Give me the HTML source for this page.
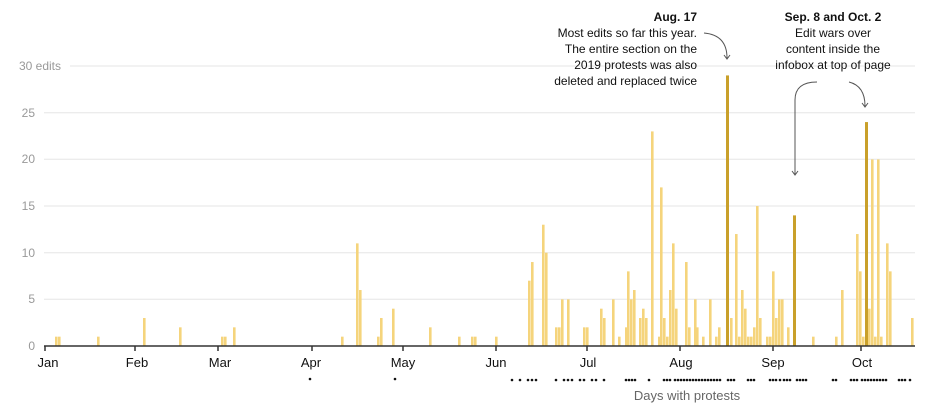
<!DOCTYPE html>
<html><head><meta charset="utf-8"><style>
body{margin:0;background:#fff;}
svg{display:block;font-family:"Liberation Sans",sans-serif;}
</style></head><body>
<svg id="s" width="937" height="416" xmlns="http://www.w3.org/2000/svg">
<g stroke="#e6e6e6" stroke-width="1">
<line x1="44" x2="915" y1="299.3" y2="299.3"/><line x1="44" x2="915" y1="252.7" y2="252.7"/>
<line x1="44" x2="915" y1="206" y2="206"/><line x1="44" x2="915" y1="159.3" y2="159.3"/>
<line x1="44" x2="915" y1="112.7" y2="112.7"/><line x1="70" x2="915" y1="66" y2="66"/>
</g>
<g fill="#999" font-size="12" text-anchor="end">
<text x="35" y="350">0</text><text x="35" y="303">5</text><text x="35" y="257">10</text>
<text x="35" y="210">15</text><text x="35" y="163">20</text><text x="35" y="117">25</text>
<text x="61" y="70">30 edits</text>
</g>
<g id="bars"></g>
<line x1="44" x2="915" y1="346" y2="346" stroke="#333" stroke-width="1.5"/>
<g stroke="#333" stroke-width="1.5">
<line x1="45" x2="45" y1="346" y2="351"/><line x1="135" x2="135" y1="346" y2="351"/>
<line x1="218" x2="218" y1="346" y2="351"/><line x1="312" x2="312" y1="346" y2="351"/>
<line x1="403" x2="403" y1="346" y2="351"/><line x1="496" x2="496" y1="346" y2="351"/>
<line x1="587" x2="587" y1="346" y2="351"/><line x1="680" x2="680" y1="346" y2="351"/>
<line x1="773" x2="773" y1="346" y2="351"/><line x1="861" x2="861" y1="346" y2="351"/>
</g>
<g fill="#111" font-size="13" text-anchor="middle">
<text x="48" y="367">Jan</text><text x="137" y="367">Feb</text><text x="220" y="367">Mar</text>
<text x="311" y="367">Apr</text><text x="403" y="367">May</text><text x="496" y="367">Jun</text>
<text x="588" y="367">Jul</text><text x="681" y="367">Aug</text><text x="773" y="367">Sep</text>
<text x="862" y="367">Oct</text>
</g>
<g id="dots" fill="#111"></g>
<text x="687" y="400" fill="#666" font-size="13" text-anchor="middle">Days with protests</text>
<g font-size="12" fill="#111" text-anchor="end">
<text x="697" y="21" font-weight="bold">Aug. 17</text>
<text x="697" y="37">Most edits so far this year.</text>
<text x="697" y="53">The entire section on the</text>
<text x="697" y="69">2019 protests was also</text>
<text x="697" y="85">deleted and replaced twice</text>
</g>
<g font-size="12" fill="#111" text-anchor="middle">
<text x="833" y="21" font-weight="bold">Sep. 8 and Oct. 2</text>
<text x="833" y="37">Edit wars over</text>
<text x="833" y="53">content inside the</text>
<text x="833" y="69">infobox at top of page</text>
</g>
<g fill="none" stroke="#555" stroke-width="1">
<path d="M704 33 Q727 35 727 58"/><path d="M724 55 L727 59 L730 55"/>
<path d="M817 82 Q795 82 795 100 L795 174"/><path d="M792 171 L795 175 L798 171"/>
<path d="M849 82 Q865 86 865 106"/><path d="M862 103 L865 107 L868 103"/>
</g>
</svg>
<script>
var L="#f5d47c",D="#c9a02a";
var b=[[56,1],[59,1],[98,1],[144,3],[180,2],[222,1],[225,1],[234,2],[342,1],[357,11],[360,6],[378,1],[381,3],[393,4],[430,2],[459,1],[472,1],[475,1],[496,1],[529,7],[532,9],[543,13],[546,10],[556,2],[559,2],[562,5],[568,5],[584,2],[587,2],[601,4],[604,3],[613,5],[619,1],[626,2],[628,8],[631,5],[634,6],[640,3],[643,4],[646,3],[652,23],[659,1],[661,17],[664,3],[667,1],[670,6],[673,11],[676,4],[686,9],[689,2],[695,5],[697,2],[703,1],[710,5],[716,1],[719,2],[727,29,1],[731,3],[736,12],[739,1],[742,6],[745,4],[748,1],[751,1],[754,2],[757,15],[760,3],[767,1],[770,1],[773,8],[776,3],[779,5],[782,5],[788,2],[794,14,1],[813,1],[836,1],[842,6],[857,12],[860,8],[863,1],[866,24,1],[869,4],[872,20],[875,1],[878,20],[881,1],[887,11],[890,8],[912,3]];
var h="";b.forEach(function(a){var H=a[1]*9.33;h+='<rect x="'+(a[0]-1)+'" y="'+(346-H)+'" width="'+(a[2]?3:2.6)+'" height="'+H+'" fill="'+(a[2]?D:L)+'"/>';});
document.getElementById("bars").innerHTML=h;
var d=[310,395,512,520,528,532,536,556,564,568,572,580,584,592,596,604,626,629,632,635,649,664,667,670];
for(var x=675;x<=722;x+=3)d.push(x);
d=d.concat([728,731,734,748,751,754,770,773,776,780,784,787,790,797,800,803,806,833,836,851,854,857]);
for(x=862;x<=888;x+=3)d.push(x);
d=d.concat([899,902,905,910]);
h="";d.forEach(function(x){h+='<circle cx="'+x+'" cy="'+(x<400?379:380)+'" r="1.3"/>';});
document.getElementById("dots").innerHTML=h;
</script>
</body></html>
